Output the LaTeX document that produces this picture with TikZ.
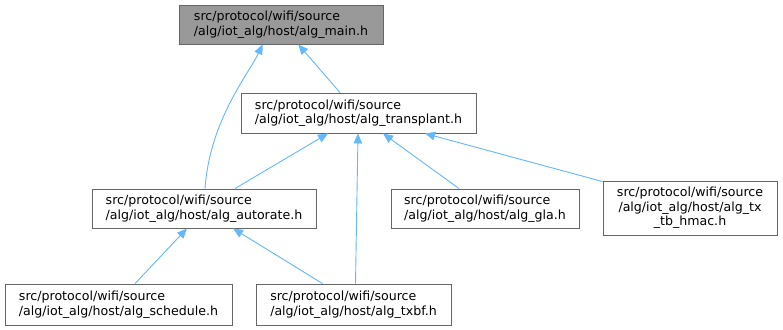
\documentclass[tikz,border=0pt]{standalone}
\usepackage{fontspec}
\setmainfont{DejaVu Sans}
\usetikzlibrary{arrows.meta}
\definecolor{edgeblue}{HTML}{63B8FF}
\definecolor{boxborder}{HTML}{666666}
\definecolor{mainfill}{HTML}{999999}
\tikzset{
  filebox/.style={draw=boxborder, line width=0.9pt, fill=white, align=left,
    inner xsep=0pt, inner ysep=0pt, font=\fontsize{12.6}{14.5}\selectfont},
  edge/.style={draw=edgeblue, line width=0.9pt, {Triangle[length=10pt,width=8.5pt]}-}
}
\begin{document}
\begin{tikzpicture}[x=1pt,y=-1pt]
\useasboundingbox[fill=white] (0,0) rectangle (783,329);
\node[filebox, fill=mainfill, minimum width=204pt, minimum height=39pt] (main) at (281,24.5)
  {src/protocol/wifi/source\\/alg/iot\_alg/host/alg\_main.h};
\node[filebox, minimum width=235pt, minimum height=40pt] (transplant) at (358.5,113)
  {src/protocol/wifi/source\\/alg/iot\_alg/host/alg\_transplant.h};
\node[filebox, minimum width=224pt, minimum height=39pt] (autorate) at (204,208.5)
  {src/protocol/wifi/source\\/alg/iot\_alg/host/alg\_autorate.h};
\node[filebox, minimum width=188pt, minimum height=39pt] (gla) at (485,208.5)
  {src/protocol/wifi/source\\/alg/iot\_alg/host/alg\_gla.h};
\node[filebox, align=center, minimum width=174pt, minimum height=54pt] (hmac) at (690,208)
  {src/protocol/wifi/source\\/alg/iot\_alg/host/alg\_tx\\\_tb\_hmac.h};
\node[filebox, minimum width=227pt, minimum height=41pt] (schedule) at (118.5,304.5)
  {src/protocol/wifi/source\\/alg/iot\_alg/host/alg\_schedule.h};
\node[filebox, minimum width=195pt, minimum height=41pt] (txbf) at (353.5,304.5)
  {src/protocol/wifi/source\\/alg/iot\_alg/host/alg\_txbf.h};

\draw[edge] ([xshift=-18.3pt]main.south) .. controls (248,75) and (210,120) .. ([xshift=1pt]autorate.north);
\draw[edge] ([xshift=17.3pt]main.south) -- ([xshift=-18.5pt]transplant.north);
\draw[edge] ([xshift=-30.5pt]transplant.south) -- ([xshift=31pt]autorate.north);
\draw[edge] ([xshift=-0.5pt]transplant.south) -- ([xshift=2pt]txbf.north);
\draw[edge] ([xshift=24.5pt]transplant.south) -- ([xshift=-26pt]gla.north);
\draw[edge] ([xshift=66.5pt]transplant.south) -- ([yshift=-1pt]hmac.north west);
\draw[edge] ([xshift=-17pt]autorate.south) -- ([xshift=16.5pt]schedule.north);
\draw[edge] ([xshift=29pt]autorate.south) -- ([xshift=-31pt]txbf.north);
\end{tikzpicture}
\end{document}
